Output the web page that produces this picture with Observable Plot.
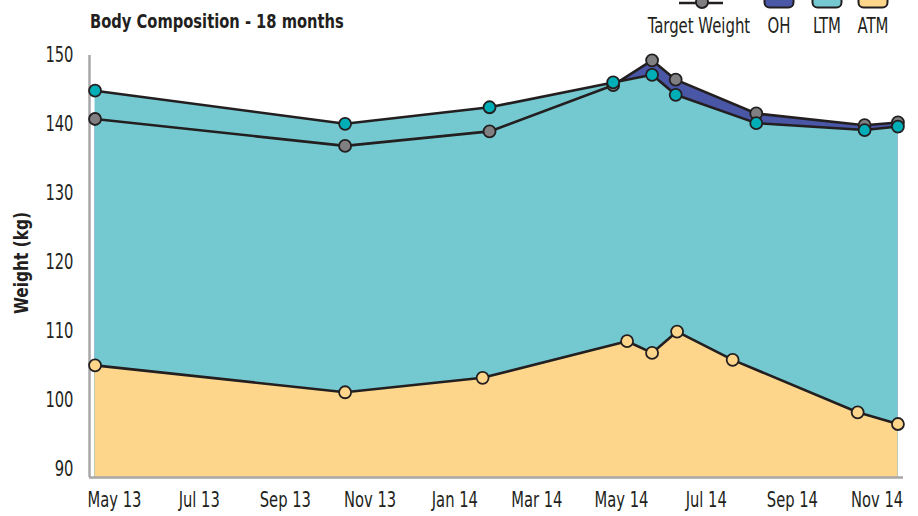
<!DOCTYPE html>
<html>
<head>
<meta charset="utf-8">
<script src="https://cdn.jsdelivr.net/npm/d3@7"></script>
<script src="https://cdn.jsdelivr.net/npm/@observablehq/plot@0.6"></script>
<style>
  html, body { margin: 0; padding: 0; background: #fff; }
  #wrap { position: relative; width: 918px; height: 516px; overflow: hidden;
          font-family: "DejaVu Sans Condensed", "DejaVu Sans", sans-serif; color: #231f20; }
  #title { position: absolute; left: 90px; top: 9px; font-size: 19px; font-weight: bold; white-space: nowrap; line-height: 24px;
           transform: scaleX(0.86); transform-origin: 0 50%; }
  #legend { position: absolute; left: 0; top: 0; }
  #chart { position: absolute; left: 0; top: 0; }
</style>
</head>
<body>
<div id="wrap">
  <div id="chart"></div>
  <div id="title">Body Composition - 18 months</div>
  <svg id="legend" width="918" height="45"></svg>
</div>
<script>
// ---- data ----
const weightDates = ["2013-04-17","2013-10-14","2014-01-26","2014-04-25","2014-05-23","2014-06-09","2014-08-06","2014-10-23","2014-11-16"];
const targetWeight = [140.8, 136.9, 139.0, 145.7, 149.3, 146.5, 141.6, 139.9, 140.3];
const ltmTop = [144.9, 140.1, 142.5, 146.1, 147.2, 144.3, 140.2, 139.2, 139.7];
const atmDates = ["2013-04-17","2013-10-14","2014-01-21","2014-05-05","2014-05-23","2014-06-10","2014-07-20","2014-10-18","2014-11-16"];
const atm = [105.1, 101.2, 103.3, 108.6, 106.9, 110.0, 105.9, 98.3, 96.6];
const yTicks = [90, 100, 110, 120, 130, 140, 150];
const xTickDates = ["2013-05-01","2013-07-01","2013-09-01","2013-11-01","2014-01-01","2014-03-01","2014-05-01","2014-07-01","2014-09-01","2014-11-01"];
const xDomain = ["2013-04-13", "2014-11-20"];
const yDomain = [88.85, 150];
const legendItems = ["Target Weight", "OH", "LTM", "ATM"];

const colors = {OH: "#4a56a6", LTM: "#74c9d0", ATM: "#fdd68c", target: "#808083", ltmDot: "#00aeb8", ink: "#231f20", axis: "#a7a7a9"};
const FONT = '"DejaVu Sans Condensed", "DejaVu Sans", sans-serif';
const NARROW = 0.78;

const parse = d3.utcParse("%Y-%m-%d");
const wData = weightDates.map((d, i) => ({date: parse(d), target: targetWeight[i], ltm: ltmTop[i]}));
const aData = atmDates.map((d, i) => ({date: parse(d), atm: atm[i]}));
const yMin = yDomain[0];

const fmt = d3.utcFormat("%b %y");

const chart = Plot.plot({
  width: 918,
  height: 516,
  marginLeft: 89,
  marginRight: 15,
  marginTop: 55,
  marginBottom: 39,
  style: {fontFamily: FONT, fontSize: "21px", color: "#231f20", background: "transparent"},
  x: {type: "utc", domain: xDomain.map(parse), ticks: xTickDates.map(parse), tickFormat: fmt, tickSize: 0, tickPadding: 15, label: null},
  y: {domain: yDomain, ticks: yTicks, tickSize: 0, tickPadding: 16, label: null},
  marks: [
    Plot.areaY(wData, {x: "date", y1: () => yMin, y2: "target", fill: colors.OH}),
    Plot.areaY(wData, {x: "date", y1: () => yMin, y2: "ltm", fill: colors.LTM}),
    Plot.areaY(aData, {x: "date", y1: () => yMin, y2: "atm", fill: colors.ATM}),
    Plot.ruleX([parse(xDomain[0])], {stroke: colors.axis, strokeWidth: 2.5}),
    Plot.ruleY([yMin], {stroke: colors.axis, strokeWidth: 2.5}),
    Plot.line(wData, {x: "date", y: "target", stroke: colors.ink, strokeWidth: 2.6}),
    Plot.line(wData, {x: "date", y: "ltm", stroke: colors.ink, strokeWidth: 2.6}),
    Plot.line(aData, {x: "date", y: "atm", stroke: colors.ink, strokeWidth: 2.6}),
    Plot.dot(wData, {x: "date", y: "target", r: 6, fill: colors.target, stroke: colors.ink, strokeWidth: 1.8}),
    Plot.dot(wData, {x: "date", y: "ltm", r: 6, fill: colors.ltmDot, stroke: colors.ink, strokeWidth: 1.8}),
    Plot.dot(aData, {x: "date", y: "atm", r: 6, fill: colors.ATM, stroke: colors.ink, strokeWidth: 1.8})
  ]
});
document.getElementById("chart").appendChild(chart);

const svg = d3.select(chart);
// narrow the tick labels (condensed look) around their anchor point
svg.selectAll('g[aria-label="x-axis tick label"] text, g[aria-label="y-axis tick label"] text').each(function () {
  const t = d3.select(this);
  const xa = t.attr("x");
  const tr = t.attr("transform") || "";
  let shift = "";
  if (xa != null && !isNaN(+xa)) { shift = ` translate(${+xa},0)`; t.attr("x", null); }
  t.attr("transform", `${tr}${shift} scale(${NARROW},1)`);
});

// y-axis title
svg.append("text")
  .attr("transform", "translate(28,263) rotate(-90) scale(0.9,1)")
  .attr("text-anchor", "middle")
  .style("font-weight", "bold")
  .style("font-size", "19px")
  .style("font-family", FONT)
  .attr("fill", "#231f20")
  .text("Weight (kg)");

// legend
const lg = d3.select("#legend");
const legendX = {"Target Weight": 699, "OH": 779, "LTM": 827, "ATM": 873};
const swatchFill = {"OH": colors.OH, "LTM": colors.LTM, "ATM": colors.ATM};
legendItems.forEach(name => {
  const cx = legendX[name];
  if (name === "Target Weight") {
    lg.append("line").attr("x1", 679).attr("x2", 723).attr("y1", 3).attr("y2", 3)
      .attr("stroke", colors.ink).attr("stroke-width", 2.6);
    lg.append("circle").attr("cx", 702).attr("cy", 2).attr("r", 6)
      .attr("fill", colors.target).attr("stroke", colors.ink).attr("stroke-width", 1.8);
  } else {
    lg.append("rect").attr("x", cx - 14.5).attr("y", -12).attr("width", 29).attr("height", 19.5)
      .attr("rx", 5).attr("fill", swatchFill[name]).attr("stroke", colors.ink).attr("stroke-width", 2);
  }
  lg.append("text").attr("transform", `translate(${cx},33) scale(0.79,1)`).attr("text-anchor", "middle")
    .style("font-family", FONT)
    .style("font-size", "21px").attr("fill", "#231f20").text(name);
});
</script>
</body>
</html>
